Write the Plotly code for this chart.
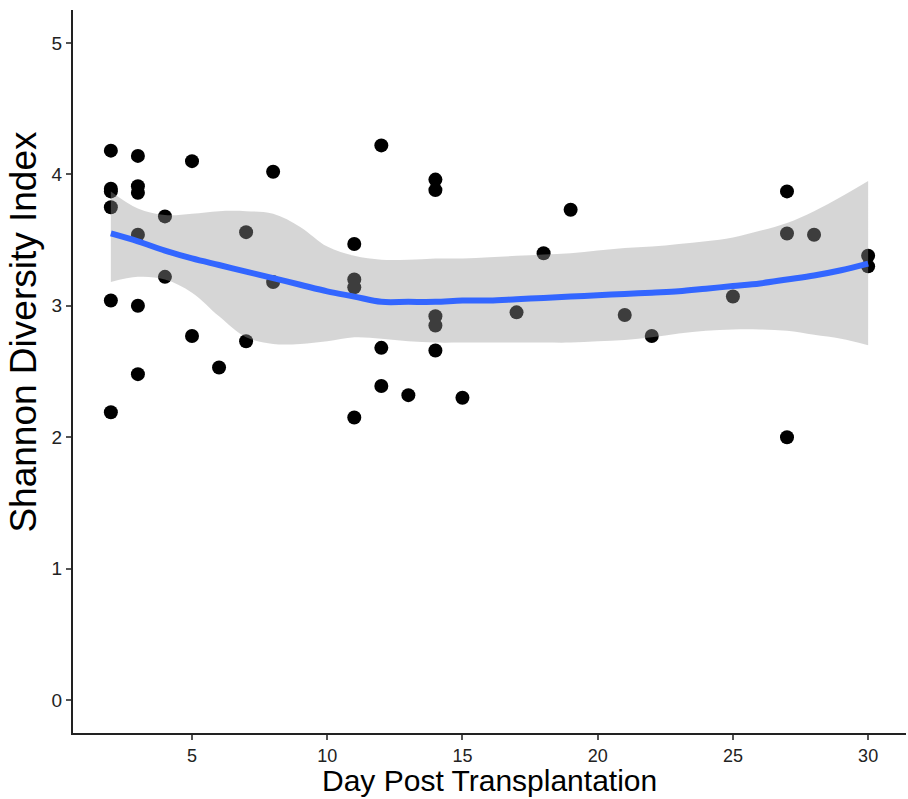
import plotly.graph_objects as go

# Observed points
day = [2, 2, 2, 2, 2, 2,
       3, 3, 3, 3, 3, 3,
       4, 4, 5, 5, 6, 7, 7, 8, 8,
       11, 11, 11, 11,
       12, 12, 12, 13,
       14, 14, 14, 14, 14,
       15, 17, 18, 19, 21, 22, 25,
       27, 27, 27, 28, 30, 30]
shannon = [4.18, 3.89, 3.87, 3.75, 3.04, 2.19,
           4.14, 3.91, 3.86, 3.54, 3.00, 2.48,
           3.68, 3.22, 4.10, 2.77, 2.53, 3.56, 2.73, 4.02, 3.18,
           3.47, 3.20, 3.14, 2.15,
           4.22, 2.68, 2.39, 2.32,
           3.96, 3.88, 2.92, 2.85, 2.66,
           2.30, 2.95, 3.40, 3.73, 2.93, 2.77, 3.07,
           3.87, 3.55, 2.00, 3.54, 3.38, 3.30]

# Loess smooth and confidence band
fit_day = list(range(2, 31))
fit = [3.55, 3.49, 3.42, 3.36, 3.31, 3.26, 3.21, 3.16, 3.11, 3.07,
       3.03, 3.03, 3.03, 3.04, 3.04, 3.05, 3.06, 3.07, 3.08, 3.09,
       3.10, 3.11, 3.13, 3.15, 3.17, 3.20, 3.23, 3.27, 3.32]
upper = [3.87, 3.74, 3.69, 3.70, 3.72, 3.72, 3.70, 3.60, 3.45, 3.38,
         3.35, 3.35, 3.36, 3.36, 3.37, 3.38, 3.39, 3.40, 3.42, 3.44,
         3.45, 3.47, 3.49, 3.52, 3.57, 3.63, 3.72, 3.83, 3.95]
lower = [3.18, 3.22, 3.20, 3.10, 2.92, 2.76, 2.71, 2.71, 2.73, 2.76,
         2.75, 2.73, 2.72, 2.72, 2.72, 2.72, 2.72, 2.72, 2.73, 2.74,
         2.76, 2.79, 2.81, 2.82, 2.82, 2.81, 2.78, 2.75, 2.70]

x_ticks = [5, 10, 15, 20, 25, 30]
y_ticks = [0, 1, 2, 3, 4, 5]
x_title = "Day Post Transplantation"
y_title = "Shannon Diversity Index"

fig = go.Figure()
fig.add_trace(go.Scatter(x=day, y=shannon, mode="markers",
                         marker=dict(color="black", size=14, line=dict(width=0)),
                         showlegend=False, hoverinfo="x+y"))
fig.add_trace(go.Scatter(x=fit_day, y=upper, mode="lines",
                         line=dict(width=0, shape="spline", smoothing=1),
                         showlegend=False, hoverinfo="skip"))
fig.add_trace(go.Scatter(x=fit_day, y=lower, mode="lines",
                         line=dict(width=0, shape="spline", smoothing=1),
                         fill="tonexty", fillcolor="rgba(153,153,153,0.4)",
                         showlegend=False, hoverinfo="skip"))
fig.add_trace(go.Scatter(x=fit_day, y=fit, mode="lines",
                         line=dict(color="#3366FF", width=6, shape="spline", smoothing=1),
                         showlegend=False))

font_family = "Liberation Sans, Arial, sans-serif"
fig.update_layout(
    width=908, height=799,
    margin=dict(l=73, r=2, t=10, b=66),
    paper_bgcolor="white", plot_bgcolor="white",
    font=dict(family=font_family, color="black"),
    xaxis=dict(range=[0.6, 31.4], tickvals=x_ticks, showgrid=False, zeroline=False,
               showline=True, linecolor="#222222", linewidth=2,
               ticks="outside", ticklen=5, tickwidth=1.5, tickcolor="#555555",
               tickfont=dict(size=18, color="#222222")),
    yaxis=dict(range=[-0.25, 5.25], tickvals=y_ticks, showgrid=False, zeroline=False,
               showline=True, linecolor="#222222", linewidth=2,
               ticks="outside", ticklen=5, tickwidth=1.5, tickcolor="#555555",
               tickfont=dict(size=19, color="#222222")),
    annotations=[
        dict(text=y_title, textangle=-90, xref="paper", x=0, xanchor="right",
             xshift=-27, yref="y", y=2.8, yanchor="middle", showarrow=False,
             font=dict(size=37, color="black", family=font_family)),
        dict(text=x_title, xref="x", x=16, xanchor="center",
             yref="paper", y=0, yanchor="bottom", yshift=-66, showarrow=False,
             font=dict(size=30, color="black", family=font_family)),
    ],
)

fig.write_html("out.html")
